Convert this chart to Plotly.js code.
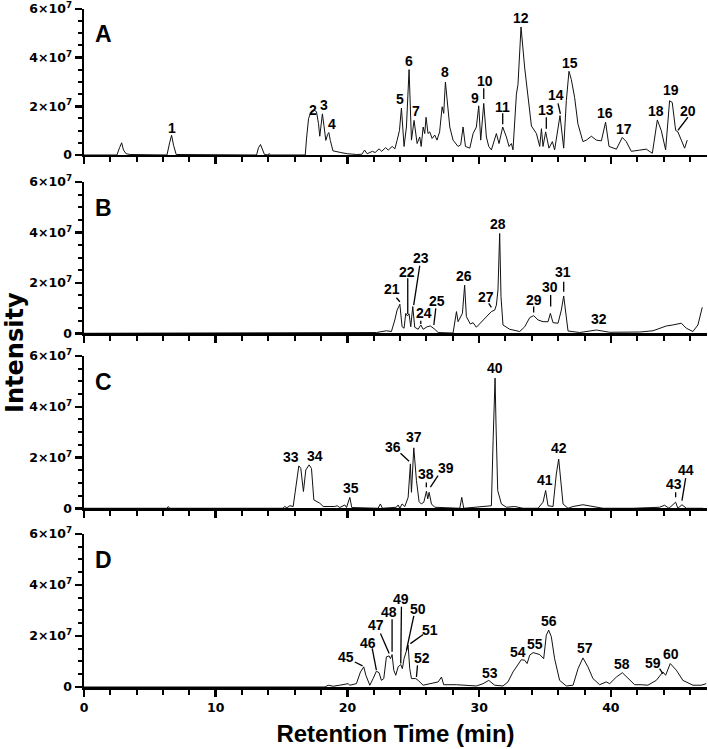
<!DOCTYPE html>
<html>
<head>
<meta charset="utf-8">
<script src="https://cdn.plot.ly/plotly-3.0.1.min.js"></script>
<style>
  html, body { margin: 0; padding: 0; background: #fff; }
  #chart { width: 708px; height: 749px; }
</style>
</head>
<body>
<div id="chart"></div>
<script>
// Chromatogram traces, intensity in units of 1e7, time in minutes
var timeA = [0,2.5,2.7,2.86,3.0,3.2,3.5,6.3,6.5,6.65,6.8,7.0,13.1,13.25,13.4,13.55,13.7,14.0,14.06,14.15,16.8,16.9,17.05,17.27,17.5,17.65,17.8,17.9,18.0,18.1,18.22,18.36,18.5,18.59,18.7,18.9,19.5,20.0,20.7,21.1,21.3,21.5,21.9,22.1,22.4,22.6,22.9,23.1,23.4,23.6,23.77,23.95,24.1,24.3,24.48,24.68,24.86,25.06,25.29,25.49,25.6,25.75,25.87,25.97,26.12,26.25,26.43,26.63,26.8,27.0,27.19,27.31,27.44,27.57,27.77,28.02,28.4,28.6,28.78,28.96,29.29,29.54,29.79,29.97,30.12,30.35,30.55,30.73,30.93,31.31,31.51,31.79,32.07,32.27,32.45,32.57,32.83,32.95,33.18,33.46,33.71,33.97,34.35,34.6,34.73,34.85,35.05,35.3,35.56,35.73,36.14,36.42,36.62,36.82,37.0,37.25,37.5,37.88,38.14,38.52,38.9,39.28,39.6,39.86,40.42,40.87,41.17,41.55,42.19,42.69,43.15,43.53,43.83,44.16,44.46,44.66,44.92,45.09,45.35,45.6,45.8];
var sigA = [0,0,0.3,0.5,0.2,0.05,0.02,0,0.5,0.81,0.4,0.02,0,0.3,0.43,0.2,0.02,0,0.06,0,0,0.7,1.5,1.8,1.83,1.78,1.3,0.77,1.3,1.69,1.2,0.6,0.85,0.92,0.6,0.17,0.1,0.05,0.02,0.03,0.2,0.05,0.15,0.1,0.25,0.15,0.3,0.2,0.35,0.25,0.6,1.0,1.93,0.35,1.15,3.51,0.61,1.42,0.47,0.74,0.35,1.15,0.88,1.55,0.88,0.95,0.68,0.82,0.61,0.95,1.98,1.71,3.0,2.23,1.15,0.61,0.35,0.42,1.15,0.35,0.28,0.88,1.15,2.02,0.61,2.12,0.74,0.35,0.21,0.88,0.47,1.15,0.74,0.35,0.47,0.21,2.5,2.9,5.26,3.57,2.36,1.19,0.88,0.35,1.08,0.35,0.95,0.28,0.55,0.21,1.62,0.28,2.23,3.44,3.1,2.36,1.28,0.55,0.61,0.77,0.61,0.58,1.35,0.35,0.24,0.72,0.55,0.15,0.2,0.24,0.07,1.44,1.0,0.21,2.23,2.16,1.01,0.95,0.61,0.28,0.61];

var timeB = [0,21.5,22.2,22.96,23.34,23.6,23.77,23.98,24.15,24.3,24.43,24.55,24.68,24.81,24.96,25.11,25.37,25.57,25.75,26.05,26.3,26.63,26.89,28.02,28.15,28.28,28.4,28.58,28.73,28.9,29.03,29.33,29.54,29.79,30.17,30.55,30.93,31.18,31.31,31.43,31.56,31.66,31.81,32.32,33.08,33.46,33.84,34.14,34.47,34.85,35.23,35.41,35.61,35.99,36.24,36.42,36.57,36.75,37.63,38.9,39.91,42.19,43.2,44.21,44.71,45.35,45.73,46.23,46.61,46.94];
var sigB = [0,0,0.03,0.1,0.07,0.53,0.92,1.15,0.26,0.2,0.79,0.69,0.77,0.26,1.06,0.24,0.16,0.33,0.16,0.26,0.29,0.16,0.03,0.01,0.4,0.86,0.46,0.66,0.79,1.91,0.66,0.37,0.42,0.24,0.46,0.66,0.86,0.92,1.12,1.72,3.96,1.45,0.33,0.16,0.07,0.26,0.62,0.7,0.53,0.46,0.46,0.79,0.42,0.4,0.92,1.48,0.92,0.09,0.03,0.13,0.04,0.05,0.1,0.29,0.33,0.4,0.2,0.07,0.33,1.03];

var timeC = [0,6.3,6.4,6.5,15.1,15.25,15.4,15.63,15.88,16.14,16.31,16.46,16.66,16.84,17.09,17.27,17.45,17.9,18.16,19.04,19.22,19.42,19.8,19.93,20.18,20.33,22.33,22.5,22.66,23.72,23.85,23.98,24.15,24.36,24.61,24.78,24.86,25.04,25.24,25.44,25.61,25.8,26.0,26.1,26.2,26.38,26.63,28.53,28.68,28.83,29.54,30.55,30.93,31.06,31.13,31.21,31.28,31.41,31.69,32.07,32.7,33.33,34.47,34.85,35.05,35.23,35.61,35.86,36.04,36.19,36.37,36.75,37.13,37.88,38.64,39.4,41.68,43.7,44.08,44.41,44.92,45.09,45.4,45.73,46.99];
var sigC = [0,0,0.07,0,0,0.07,0.02,0.1,0.07,0.98,1.67,1.57,0.66,1.51,1.71,1.57,0.33,0.2,0.07,0.07,0.1,0.03,0.13,0.03,0.43,0.03,0,0.17,0,0.04,0.13,0,0.17,0.07,0.43,1.75,0.63,2.38,1.09,0.26,0.17,0.24,0.67,0.37,0.63,0.17,0.04,0,0.43,0,0.04,0.07,0.1,2.66,4.24,5.13,3.32,0.7,0.17,0.04,0.07,0,0,0.24,0.7,0.1,0.07,1.35,1.94,1.09,0.17,0,0.07,0.14,0.08,0,0,0.04,0.12,0,0.24,0,0.14,0,0];

var timeD = [0,18.3,18.54,18.92,19.42,19.67,20.05,20.18,20.56,20.68,20.99,21.24,21.4,21.7,21.95,22.2,22.4,22.58,22.76,22.96,23.16,23.27,23.39,23.52,23.67,23.85,24.05,24.17,24.3,24.43,24.61,24.73,24.86,25.19,25.37,25.75,26.38,26.89,27.14,27.31,28.28,29.16,29.79,30.3,30.73,31.18,31.81,32.19,32.57,33.2,33.46,33.64,33.84,34.1,34.6,34.9,35.1,35.28,35.48,35.73,36.11,36.62,37.13,37.51,37.88,38.26,38.64,39.15,39.65,39.91,40.42,40.87,41.3,41.81,42.31,42.81,43.45,43.95,44.16,44.51,44.97,45.47,46.23,46.86,47.24];
var sigD = [0,0,0.07,0.03,0.07,0.1,0.13,0.07,0.13,0.13,0.59,0.79,0.46,0.07,0.33,0.62,0.56,0.26,0.33,1.18,1.22,1.11,1.27,0.66,0.46,0.79,0.88,0.72,1.11,1.38,1.64,0.72,0.33,0.33,0.26,0.07,0.13,0.2,0.39,0.09,0.09,0.07,0.04,0.13,0.26,0.07,0.04,0.2,0.59,1.07,1.05,0.92,1.25,1.35,1.27,1.11,2.03,2.23,1.97,1.11,0.26,0.04,0.07,0.72,1.14,0.79,0.33,0.09,0.2,0.13,0.39,0.56,0.33,0.09,0.09,0.07,0.26,0.59,0.46,0.92,0.66,0.26,0.07,0.07,0.13];

// Peak numbers and where they sit (time, intensity)
var labA = ['1','2','3','4','5','6','7','8','9','10','11','12','13','14','15','16','17','18','19','20'];
var labAx = [6.65,17.4,18.23,18.84,23.98,24.68,25.24,27.39,29.67,30.42,31.74,33.18,35.05,35.86,36.87,39.58,40.97,43.45,44.59,45.85];
var labAy = [1.12,1.86,2.06,1.28,2.3,3.85,1.82,3.4,2.36,3.04,1.98,5.64,1.85,2.47,3.8,1.73,1.05,1.82,2.67,1.82];

var labB = ['21','22','23','24','25','26','27','28','29','30','31','32'];
var labBx = [23.4,24.55,25.62,25.8,26.83,28.86,30.55,31.44,34.14,35.41,36.37,39.1];
var labBy = [1.74,2.44,2.97,0.79,1.29,2.27,1.45,4.33,1.32,1.82,2.44,0.55];

var labC = ['33','34','35','36','37','38','39','40','41','42','43','44'];
var labCx = [15.7,17.53,20.3,23.47,25.04,25.94,27.47,31.21,34.98,36.04,44.79,45.73];
var labCy = [2.03,2.06,0.78,2.4,2.79,1.35,1.57,5.51,1.11,2.36,0.96,1.51];

var labD = ['45','46','47','48','49','50','51','52','53','54','55','56','57','58','59','60'];
var labDx = [19.88,21.57,22.2,23.16,24.1,25.37,26.25,25.69,30.8,32.95,34.27,35.31,38.01,40.87,43.2,44.59];
var labDy = [1.18,1.74,2.42,2.95,3.45,3.05,2.25,1.15,0.56,1.38,1.68,2.58,1.53,0.92,0.95,1.31];

// Leader lines from a label to its peak: [t0, i0, t1, i1]
var leadA = [[30.35,2.74,30.35,2.3],[31.79,1.71,31.79,1.26],[35.1,1.55,35.1,1.08],[35.99,2.12,36.17,1.69],[45.85,1.55,45.09,1.01]];
var leadB = [[23.72,1.41,23.98,1.25],[24.58,2.18,24.58,0.77],[25.49,2.68,25.03,1.12],[25.57,0.5,25.57,0.37],[26.71,0.99,26.56,0.33],[30.73,1.19,30.93,1.03],[34.14,1.06,34.14,0.82],[35.43,1.52,35.43,1.06],[36.42,2.04,36.42,1.65]];
var leadC = [[24.03,2.17,24.68,1.85],[25.99,1.02,25.99,0.83],[26.88,1.29,26.3,0.83],[44.92,0.63,44.92,0.43],[45.68,1.19,45.4,0.3]];
var leadD = [[20.56,0.98,21.15,0.83],[21.88,1.51,22.2,0.66],[22.51,2.1,23.17,1.31],[23.39,2.66,23.39,1.38],[24.1,3.15,24.05,0.92],[25.04,2.79,24.48,1.44],[25.75,2.06,24.78,1.7],[25.32,0.85,25.24,0.39],[43.7,0.72,43.95,0.52]];

var panelNames = ['A', 'B', 'C', 'D'];
var yTickVals = [0, 2, 4, 6];
var yTickText = ['0', '2×10<sup>7</sup>', '4×10<sup>7</sup>', '6×10<sup>7</sup>'];
var xTickVals = [0, 10, 20, 30, 40];
var xTickText = ['0', '10', '20', '30', '40'];

var times = [timeA, timeB, timeC, timeD];
var sigs = [sigA, sigB, sigC, sigD];
var labs = [[labA, labAx, labAy], [labB, labBx, labBy], [labC, labCx, labCy], [labD, labDx, labDy]];
var leads = [leadA, leadB, leadC, leadD];
var domains = [[0.7847, 1.0], [0.5217, 0.7448], [0.2636, 0.4882], [0.0, 0.2257]];

function bold(s) { return '<b>' + s + '</b>'; }

var tickFont = {family: 'DejaVu Sans', size: 12.5, color: '#000'};
var labelFont = {family: 'Liberation Sans', size: 14, color: '#000'};

var data = [];
var annotations = [];
var shapes = [];
var layout = {
    width: 708,
    height: 749,
    margin: {l: 84, r: 1, t: 9, b: 62},
    paper_bgcolor: '#fff',
    plot_bgcolor: 'rgba(0,0,0,0)',
    showlegend: false
};

for (let i = 0; i < 4; i++) {
    let n = i === 0 ? '' : String(i + 1);
    let xr = 'x' + n, yr = 'y' + n;

    data.push({
        x: times[i],
        y: sigs[i],
        xaxis: xr,
        yaxis: yr,
        type: 'scatter',
        mode: 'lines',
        line: {color: '#111', width: 1},
        hoverinfo: 'skip'
    });

    layout['xaxis' + n] = {
        anchor: yr,
        domain: [0, 1],
        range: [0, 47.3],
        tickmode: 'array',
        tickvals: xTickVals,
        ticktext: xTickText.map(bold),
        ticks: 'outside',
        ticklen: 7,
        tickwidth: 2.5,
        tickcolor: '#000',
        minor: {tickmode: 'linear', tick0: 0, dtick: 2, ticks: 'outside', ticklen: 5, tickwidth: 2, tickcolor: '#000'},
        showline: true,
        linecolor: '#000',
        linewidth: 2.5,
        showgrid: false,
        zeroline: false,
        showticklabels: i === 3,
        tickfont: tickFont,
        fixedrange: true
    };
    layout['yaxis' + n] = {
        anchor: xr,
        domain: domains[i],
        range: [0, 6],
        tickmode: 'array',
        tickvals: yTickVals,
        ticktext: yTickText.map(bold),
        ticklabeloverflow: 'allow',
        ticks: 'outside',
        ticklen: 7,
        tickwidth: 2.5,
        tickcolor: '#000',
        minor: {tickmode: 'linear', tick0: 0, dtick: 0.5, ticks: 'outside', ticklen: 4, tickwidth: 2, tickcolor: '#000'},
        showline: true,
        linecolor: '#000',
        linewidth: 2.5,
        showgrid: false,
        zeroline: false,
        tickfont: tickFont,
        fixedrange: true
    };

    // Panel letter
    annotations.push({
        text: bold(panelNames[i]),
        xref: 'paper', yref: yr + ' domain',
        x: 0.031, y: 0.83,
        xanchor: 'center', yanchor: 'middle',
        showarrow: false,
        font: {family: 'Liberation Sans', size: 23, color: '#000'}
    });

    // Peak numbers
    let L = labs[i];
    for (let k = 0; k < L[0].length; k++) {
        annotations.push({
            text: bold(L[0][k]),
            xref: xr, yref: yr,
            x: L[1][k], y: L[2][k],
            xanchor: 'center', yanchor: 'middle',
            showarrow: false,
            font: labelFont
        });
    }

    // Leader lines
    leads[i].forEach(function (s) {
        shapes.push({
            type: 'line', xref: xr, yref: yr,
            x0: s[0], y0: s[1], x1: s[2], y1: s[3],
            line: {color: '#000', width: 1.3}
        });
    });
}

layout.xaxis4.title = {
    text: bold('Retention Time (min)'),
    font: {family: 'Liberation Sans', size: 24, color: '#000'},
    standoff: 12
};

annotations.push({
    text: bold('Intensity'),
    xref: 'paper', yref: 'paper',
    x: -0.111, y: 0.494,
    xanchor: 'center', yanchor: 'middle',
    textangle: -90,
    showarrow: false,
    font: {family: 'DejaVu Sans', size: 24, color: '#000'}
});

layout.annotations = annotations;
layout.shapes = shapes;

Plotly.newPlot('chart', data, layout, {displayModeBar: false, staticPlot: true});
</script>
</body>
</html>
